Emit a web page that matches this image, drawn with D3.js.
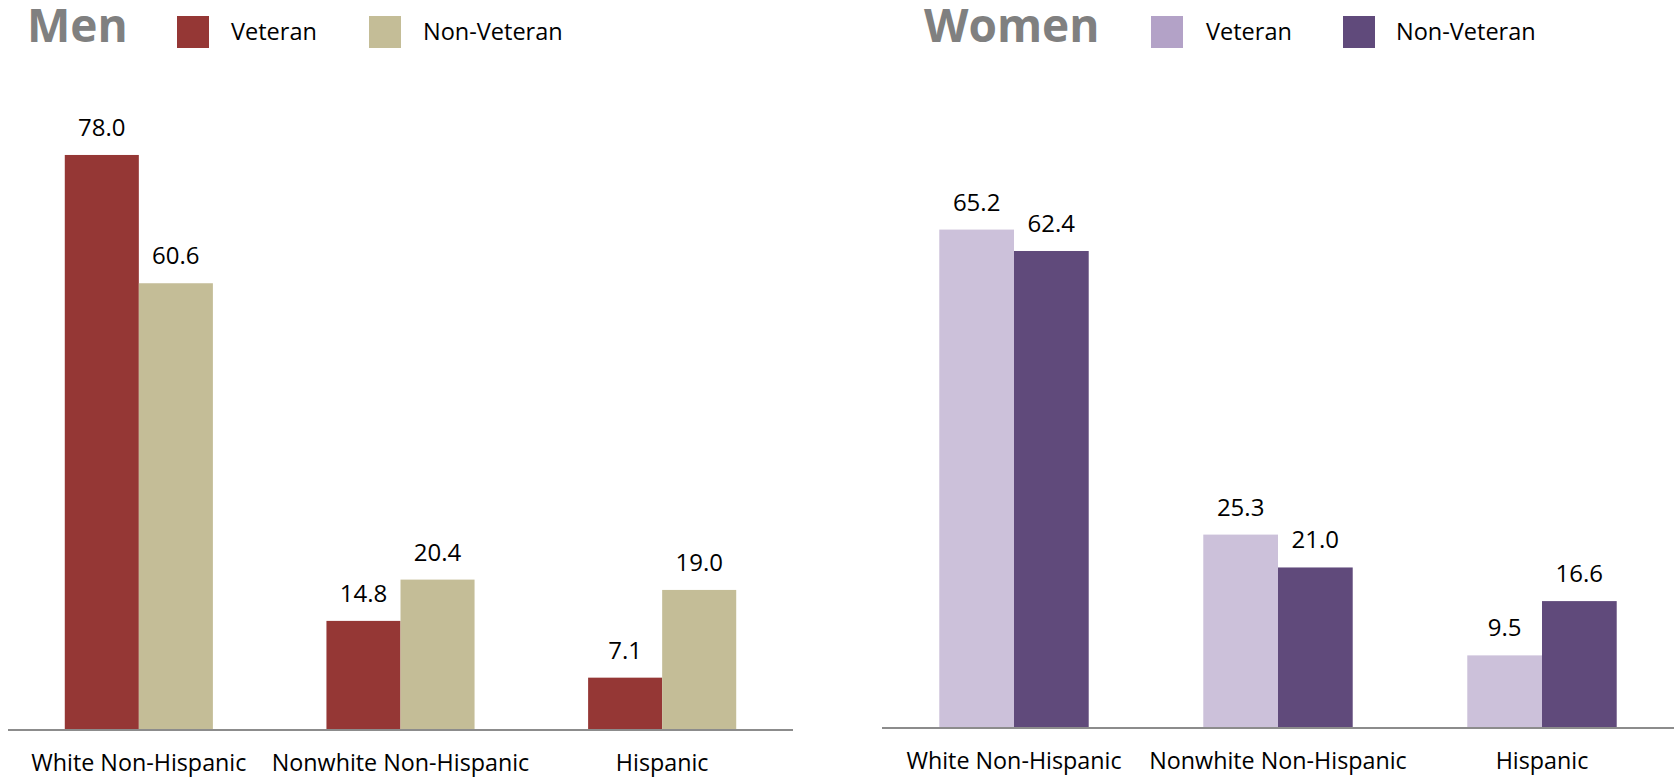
<!DOCTYPE html>
<html>
<head>
<meta charset="utf-8">
<script src="https://cdn.jsdelivr.net/npm/d3@7"></script>
<style>
  html, body { margin: 0; padding: 0; background: #fff; }
  svg { display: block; font-family: "Open Sans", "Noto Sans", sans-serif; }
</style>
</head>
<body>
<svg id="chart" width="1674" height="777"></svg>
<script>
const categories = ["White Non-Hispanic", "Nonwhite Non-Hispanic", "Hispanic"];
const seriesNames = ["Veteran", "Non-Veteran"];
const menVeteran = [78.0, 14.8, 7.1];
const menNonVeteran = [60.6, 20.4, 19.0];
const womenVeteran = [65.2, 25.3, 9.5];
const womenNonVeteran = [62.4, 21.0, 16.6];

const panels = [
  {
    title: "Men",
    values: [menVeteran, menNonVeteran],
    barColors: ["#953735", "#C4BD97"],
    legendColors: ["#953735", "#C4BD97"],
    xRange: [8, 793], yRange: [730, 66.5],
    titleX: 27, legendSq: [177, 369], legendText: [231, 423]
  },
  {
    title: "Women",
    values: [womenVeteran, womenNonVeteran],
    barColors: ["#CCC1DA", "#604A7B"],
    legendColors: ["#B3A2C7", "#604A7B"],
    xRange: [882, 1674], yRange: [728, 40],
    titleX: 924, legendSq: [1151, 1343], legendText: [1206, 1396]
  }
];

const svg = d3.select("#chart");

panels.forEach(p => {
  const g = svg.append("g");
  const x = d3.scaleBand().domain(categories).range(p.xRange)
    .paddingInner(0.434).paddingOuter(0.217);
  const xs = d3.scaleBand().domain(seriesNames).range([0, x.bandwidth()]);
  const y = d3.scaleLinear().domain([0, 90]).range(p.yRange);

  // title
  g.append("text").attr("x", p.titleX).attr("y", 42)
    .attr("font-size", 46).attr("font-weight", 700).attr("fill", "#808080")
    .text(p.title);

  // legend
  seriesNames.forEach((s, i) => {
    g.append("rect").attr("x", p.legendSq[i]).attr("y", 16)
      .attr("width", 32).attr("height", 32).attr("fill", p.legendColors[i]);
    g.append("text").attr("x", p.legendText[i]).attr("y", 40)
      .attr("font-size", 23.5).attr("fill", "#000").text(s);
  });

  // bars
  seriesNames.forEach((s, si) => {
    const vals = p.values[si];
    g.selectAll(null).data(categories).enter().append("rect")
      .attr("x", c => x(c) + xs(s))
      .attr("y", (c, i) => y(vals[i]))
      .attr("width", xs.bandwidth())
      .attr("height", (c, i) => y(0) - y(vals[i]))
      .attr("fill", p.barColors[si]);
    g.selectAll(null).data(categories).enter().append("text")
      .attr("x", c => x(c) + xs(s) + xs.bandwidth() / 2)
      .attr("y", (c, i) => y(vals[i]) - 19)
      .attr("text-anchor", "middle")
      .attr("font-size", 24).attr("fill", "#000")
      .text((c, i) => d3.format(".1f")(vals[i]));
  });

  // axis
  const axis = g.append("g").attr("transform", `translate(0,${y(0)})`)
    .call(d3.axisBottom(x).tickSize(0).tickPadding(24));
  axis.select(".domain").attr("stroke", "#8c8c8c").attr("stroke-width", 2)
    .attr("d", `M${p.xRange[0]},0H${p.xRange[1]}`);
  axis.selectAll(".tick text").attr("font-size", 23.3).attr("fill", "#000")
    .attr("font-family", "'Open Sans', 'Noto Sans', sans-serif");
});
</script>
</body>
</html>
